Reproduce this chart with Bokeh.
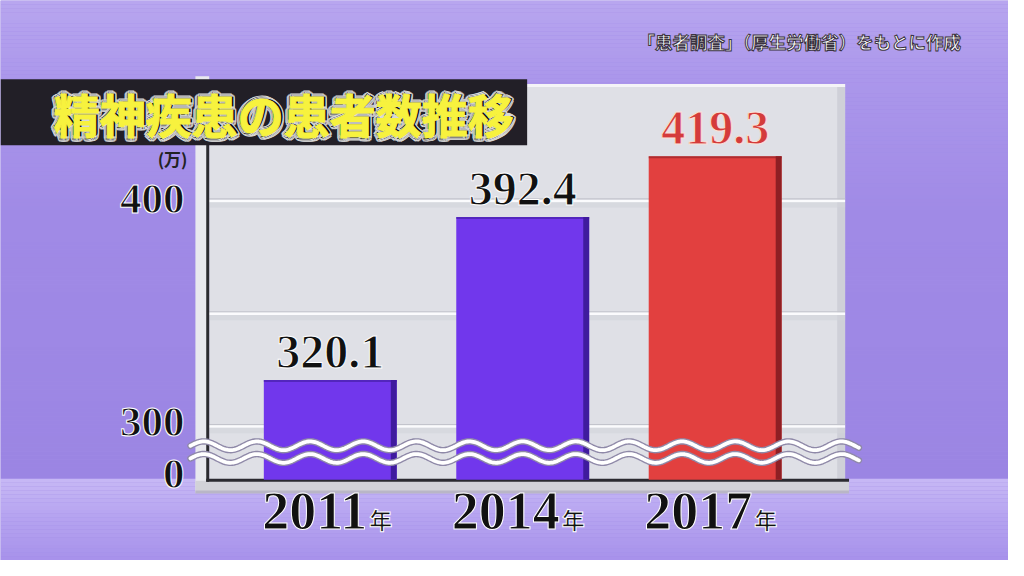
import numpy as np
from bokeh.plotting import figure
from bokeh.models import Range1d
from bokeh.core.properties import value
from bokeh.embed import file_html
from bokeh.resources import INLINE

# ---------------- data ----------------
years = ["2011", "2014", "2017"]
year_suffix = ["年", "年", "年"]
patients = [320.1, 392.4, 419.3]          # 万人
value_labels = ["320.1", "392.4", "419.3"]
y_ticks = [0, 300, 400]
y_tick_labels = ["0", "300", "400"]
grid_values = [300, 350, 400]
bar_colors = ["#7137ec", "#7137ec", "#e2403f"]
bar_edge_colors = ["#3f1b9e", "#3f1b9e", "#8e1f24"]
label_colors = ["#111111", "#111111", "#d43b3b"]
label_outline = ["#ffffff", "#ffffff", "#fbe0d6"]
title_text = "精神疾患の患者数推移"
source_text = "「患者調査」（厚生労働省）をもとに作成"
unit_text = "(万)"

# ---------------- layout (reference is 1024 x 576) ----------------
W, H = 1008, 560
RW, RH = 1024, 576
SY = H / RH
PX_X = 195.5          # reference pixels per category step
PX_Y = 2.32           # reference pixels per 1万
BREAK_FLOOR = 300     # axis is broken below this value
ZERO_POS = 275.9      # where 0 is drawn on the broken axis

x0 = -335 / PX_X
x1 = x0 + RW / PX_X
ytop = 300 + 437 / PX_Y
ybot = ytop - RH / PX_Y


def X(rx):
    return x0 + np.asarray(rx) / PX_X


def Y(ry):
    return ytop - np.asarray(ry) / PX_Y


def disp(v):
    if v >= BREAK_FLOOR:
        return v
    return ZERO_POS + v * (BREAK_FLOOR - ZERO_POS) / BREAK_FLOOR


def hx(c):
    c = c.lstrip("#")
    return [int(c[i:i + 2], 16) for i in (0, 2, 4)]


def interp(stops, t):
    for (a, ca), (b, cb) in zip(stops, stops[1:]):
        if a <= t <= b:
            f = (t - a) / (b - a) if b > a else 0
            A, B = hx(ca), hx(cb)
            return "#%02x%02x%02x" % tuple(int(round(A[i] + (B[i] - A[i]) * f)) for i in range(3))
    return stops[-1][1]


p = figure(width=W, height=H, x_range=Range1d(x0, x1), y_range=Range1d(ybot, ytop),
           output_backend="svg", toolbar_location=None, min_border=0,
           x_axis_location=None, y_axis_location=None, outline_line_color=None,
           background_fill_color="#a08ae6", border_fill_color="#a08ae6")
for g in p.grid:
    g.visible = False

# ---------------- background gradient ----------------
upper = [(0, "#b8a6ef"), (80, "#ab97eb"), (220, "#a08ae6"), (492, "#9b85e3")]
lower = [(492, "#c7b8f5"), (530, "#b6a4f0"), (580, "#a690ea")]
bl, br, bt, bb, bc = [], [], [], [], []
for ry in range(0, 580, 4):
    stops = upper if ry < 492 else lower
    bl.append(X(0)); br.append(X(1024)); bt.append(Y(ry))
    bb.append(Y(min(ry + 4, 492) if ry < 492 else ry + 4))
    bc.append(interp(stops, ry + 2))
p.quad(left=bl, right=br, top=bt, bottom=bb, fill_color=bc, line_color=None)

# ---------------- chart panel ----------------
p.quad(left=[X(198)], right=[X(212)], top=[Y(78)], bottom=[Y(506)], fill_color="#e8e8ee", line_color=None)
p.quad(left=[X(198)], right=[X(862)], top=[Y(494)], bottom=[Y(506)], fill_color="#d2d2d8", line_color=None)
p.quad(left=[X(198)], right=[X(862)], top=[Y(504)], bottom=[Y(507)], fill_color="#b9b6c6", line_color=None)
p.quad(left=[X(212)], right=[X(858)], top=[Y(86)], bottom=[Y(493)], fill_color="#dfe0e6", line_color=None)
p.quad(left=[X(850)], right=[X(858)], top=[Y(86)], bottom=[Y(493)], fill_color="#cfd0d8", line_color=None)
p.quad(left=[X(212)], right=[X(858)], top=[Y(86)], bottom=[Y(89)], fill_color="#f4f4f7", line_color=None)

for gv in grid_values:
    p.quad(left=[X(212)], right=[X(858)], top=[gv + 1.5 / PX_Y], bottom=[gv], fill_color="#c3c4cc", line_color=None)
    p.quad(left=[X(212)], right=[X(858)], top=[gv], bottom=[gv - 2.5 / PX_Y], fill_color="#fbfbfd", line_color=None)
    p.quad(left=[X(212)], right=[X(858)], top=[gv - 2.5 / PX_Y], bottom=[gv - 8 / PX_Y],
           fill_color="#d2d3da", line_color=None, fill_alpha=0.6)

p.quad(left=[X(209)], right=[X(212)], top=[Y(86)], bottom=[Y(495)], fill_color="#2b2a30", line_color=None)
p.quad(left=[X(209)], right=[X(862)], top=[Y(492)], bottom=[Y(495)], fill_color="#2b2a30", line_color=None)

# ---------------- bars ----------------
idx = list(range(len(years)))
BW = 135 / PX_X
EW = 6 / PX_X
zero = disp(0)
p.vbar(x=idx, width=BW, bottom=zero, top=patients, fill_color=bar_colors, line_color=None)
p.vbar(x=[i + BW / 2 - EW / 2 for i in idx], width=EW, bottom=zero, top=patients,
       fill_color=bar_edge_colors, line_color=None)
p.vbar(x=idx, width=BW, bottom=[v - 2 / PX_Y for v in patients], top=patients,
       fill_color=bar_edge_colors, line_color=None, fill_alpha=0.6)

# ---------------- axis break waves ----------------
wx = np.linspace(193, 872, 500)
for cy in (458, 471):
    wy = cy - 4.5 * np.sin(2 * np.pi * (wx - 193) / 54.0)
    p.line(X(wx), Y(wy), line_color="#8f89a8", line_width=6.5, line_cap="round")
    p.line(X(wx), Y(wy), line_color="#ffffff", line_width=3.8, line_cap="round")

# ---------------- texts ----------------
num_font = value("Liberation Serif")
jp_font = value("Noto Sans CJK JP")

p.text(x=idx, y=patients, text=value_labels, text_align="center", text_baseline="middle",
       y_offset=-29 * SY, text_font=num_font, text_font_style="bold", text_font_size="48px",
       text_color=label_colors, text_outline_color=label_outline)

p.text(x=X(187), y=[disp(v) for v in y_ticks], text=y_tick_labels, text_align="right",
       text_baseline="middle", y_offset=[-6 * SY, -3 * SY, -1 * SY], text_font=num_font,
       text_font_style="bold", text_font_size="43px", text_color="#111111",
       text_outline_color="#ffffff")

p.text(x=X(190), y=Y(162), text=[unit_text], text_align="right", text_baseline="middle",
       text_font=jp_font, text_font_style="bold", text_font_size="17px", text_color="#222222")

p.text(x=idx, y=zero, text=years, text_align="right", text_baseline="middle",
       x_offset=37, y_offset=32 * SY, text_font=num_font, text_font_style="bold",
       text_font_size="54px", text_color="#111111", text_outline_color="#ffffff")
p.text(x=idx, y=zero, text=year_suffix, text_align="left", text_baseline="middle",
       x_offset=39, y_offset=40 * SY, text_font=jp_font, text_font_style="bold",
       text_font_size="23px", text_color="#111111", text_outline_color="#ffffff")

# title bar
p.quad(left=[X(0)], right=[X(535)], top=[Y(81)], bottom=[Y(149)], fill_color="#221f27", line_color=None)
# thick dark rim behind the yellow title (drawn as offset copies)
ang = np.linspace(0, 2 * np.pi, 12, endpoint=False)
rim_r = 3.2
n = len(ang)
p.text(x=[X(54)] * n, y=[Y(116)] * n, text=[title_text] * n,
       x_offset=list(rim_r * np.cos(ang)), y_offset=list(rim_r * np.sin(ang)),
       text_align="left", text_baseline="middle", text_font=jp_font, text_font_style="bold",
       text_font_size="46px", text_color="#0c0c0c", text_outline_color="#d8d8d8")
p.text(x=X(54), y=Y(116), text=[title_text], text_align="left", text_baseline="middle",
       text_font=jp_font, text_font_style="bold", text_font_size="46px",
       text_color="#f7f23e", text_outline_color="#f7f23e")

# source note
p.text(x=X(976), y=Y(42), text=[source_text], text_align="right", text_baseline="middle",
       text_font=jp_font, text_font_style="bold", text_font_size="17.5px",
       text_color="#ffffff", text_outline_color="#3a3340")

open("out.html", "w").write(file_html(p, INLINE))
